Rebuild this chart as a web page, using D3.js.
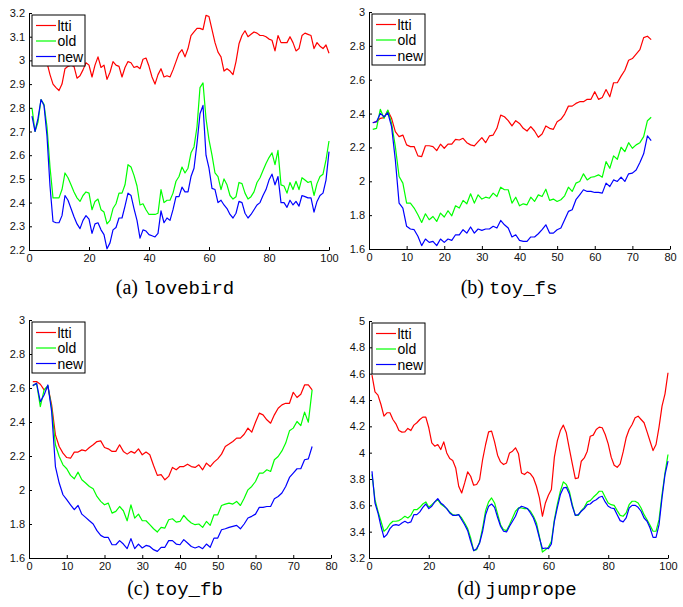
<!DOCTYPE html>
<html>
<head>
<meta charset="utf-8">
<script src="https://cdn.jsdelivr.net/npm/d3@7"></script>
<style>
  body { margin: 0; background: #fff; }
  svg { display: block; }
  .tick text { font-family: "Liberation Sans", Arial, sans-serif; font-size: 11px; fill: #111; }
  .legend text { font-family: "Liberation Sans", Arial, sans-serif; font-size: 14px; fill: #000; }
</style>
</head>
<body>
<div id="chart"></div>
<script>
// series names and colours (MATLAB defaults r, g, b)
const seriesNames = ['ltti', 'old', 'new'];
const seriesColors = ['#ff0000', '#00ff00', '#0000ff'];

// (a) lovebird, frames 1..100
const lovebirdLtti = [3.02,3.04,3.05,3.06,3.04,2.99,2.94,2.90,2.885,2.873,2.90,2.965,2.975,2.98,2.975,2.925,2.935,2.96,2.99,2.98,
  2.93,2.98,3.015,2.97,2.98,2.92,2.95,2.995,2.98,2.975,2.93,2.97,2.995,2.99,2.97,2.975,2.965,3.005,3.01,2.975,
  2.93,2.90,2.94,2.965,2.93,2.935,2.93,2.96,2.995,3.03,3.045,3.015,3.05,3.105,3.12,3.135,3.135,3.13,3.19,3.185,
  3.13,3.075,3.035,3.015,2.955,2.965,2.955,2.94,2.995,3.07,3.105,3.125,3.10,3.11,3.12,3.115,3.105,3.105,3.10,3.09,
  3.085,3.04,3.105,3.075,3.075,3.075,3.10,3.075,3.04,3.05,3.105,3.115,3.11,3.105,3.05,3.075,3.06,3.05,3.065,3.03];
const lovebirdOld = [2.80,2.70,2.74,2.835,2.815,2.72,2.55,2.42,2.42,2.42,2.455,2.525,2.505,2.475,2.445,2.42,2.405,2.43,2.445,2.44,
  2.37,2.405,2.415,2.37,2.36,2.31,2.325,2.375,2.395,2.44,2.44,2.475,2.56,2.55,2.515,2.47,2.39,2.395,2.37,2.35,
  2.35,2.35,2.355,2.455,2.40,2.41,2.41,2.44,2.49,2.51,2.55,2.525,2.545,2.61,2.635,2.72,2.885,2.905,2.755,2.665,
  2.60,2.525,2.51,2.455,2.50,2.475,2.43,2.415,2.425,2.485,2.48,2.44,2.415,2.425,2.445,2.485,2.505,2.535,2.565,2.59,
  2.61,2.56,2.62,2.475,2.47,2.44,2.485,2.455,2.49,2.455,2.505,2.495,2.485,2.49,2.43,2.48,2.51,2.52,2.58,2.66];
const lovebirdNew = [2.765,2.70,2.755,2.835,2.81,2.68,2.47,2.32,2.315,2.315,2.345,2.43,2.41,2.375,2.34,2.31,2.29,2.325,2.345,2.33,
  2.27,2.31,2.315,2.285,2.265,2.205,2.23,2.285,2.295,2.335,2.335,2.385,2.44,2.43,2.375,2.325,2.25,2.285,2.28,2.265,
  2.26,2.255,2.27,2.365,2.315,2.335,2.325,2.37,2.425,2.425,2.465,2.445,2.445,2.51,2.545,2.65,2.775,2.81,2.60,2.545,
  2.46,2.455,2.40,2.41,2.39,2.375,2.35,2.335,2.355,2.405,2.40,2.355,2.335,2.35,2.37,2.39,2.40,2.43,2.455,2.495,
  2.52,2.475,2.51,2.40,2.40,2.38,2.41,2.39,2.405,2.385,2.43,2.425,2.42,2.42,2.36,2.405,2.43,2.44,2.495,2.615];

// (b) toy_fs, frames 1..75
const toyFsLtti = [2.346,2.352,2.372,2.376,2.417,2.372,2.293,2.264,2.273,2.215,2.205,2.205,2.15,2.146,2.21,2.21,2.205,2.181,2.219,2.195,
  2.219,2.219,2.248,2.244,2.254,2.228,2.215,2.209,2.234,2.258,2.228,2.268,2.273,2.313,2.391,2.381,2.358,2.327,2.358,2.342,
  2.313,2.297,2.323,2.297,2.26,2.279,2.327,2.313,2.307,2.352,2.366,2.397,2.444,2.444,2.46,2.47,2.47,2.484,2.484,2.529,
  2.484,2.495,2.542,2.499,2.582,2.582,2.621,2.656,2.715,2.725,2.751,2.778,2.849,2.857,2.837];
const toyFsOld = [2.307,2.313,2.425,2.372,2.421,2.342,2.205,2.028,1.989,1.871,1.871,1.842,1.802,1.757,1.808,1.773,1.792,1.763,1.812,1.789,
  1.826,1.796,1.855,1.842,1.887,1.867,1.926,1.871,1.92,1.895,1.906,1.90,1.93,1.91,1.965,1.95,1.95,1.871,1.906,1.855,
  1.867,1.861,1.906,1.881,1.92,1.91,1.953,1.887,1.895,1.881,1.891,1.914,1.965,1.94,1.989,1.999,2.044,2.008,2.024,2.028,
  2.038,2.024,2.116,2.077,2.15,2.13,2.201,2.175,2.228,2.195,2.215,2.228,2.264,2.358,2.378];
const toyFsNew = [2.346,2.352,2.401,2.381,2.405,2.323,2.126,1.871,1.842,1.734,1.718,1.714,1.675,1.62,1.659,1.639,1.645,1.62,1.659,1.639,
  1.659,1.651,1.684,1.684,1.714,1.694,1.73,1.694,1.718,1.71,1.718,1.718,1.734,1.724,1.769,1.743,1.724,1.671,1.684,1.651,
  1.645,1.645,1.671,1.671,1.69,1.714,1.743,1.694,1.694,1.714,1.724,1.773,1.822,1.832,1.891,1.92,1.95,1.94,1.94,1.934,
  1.934,1.93,1.989,1.969,2.008,1.999,2.024,1.999,2.044,2.048,2.067,2.111,2.162,2.268,2.24];

// (c) toy_fb, frames 1..75
const toyFbLtti = [2.638,2.638,2.622,2.589,2.608,2.501,2.324,2.256,2.217,2.191,2.187,2.223,2.223,2.236,2.23,2.25,2.266,2.285,2.289,2.25,
  2.242,2.227,2.227,2.266,2.227,2.211,2.227,2.217,2.242,2.207,2.223,2.207,2.144,2.086,2.09,2.06,2.08,2.133,2.119,2.138,
  2.138,2.152,2.138,2.133,2.148,2.119,2.158,2.138,2.164,2.183,2.211,2.256,2.27,2.285,2.305,2.305,2.328,2.364,2.34,2.399,
  2.452,2.442,2.413,2.393,2.442,2.481,2.501,2.51,2.51,2.575,2.544,2.563,2.618,2.618,2.589];
const toyFbOld = [2.614,2.628,2.491,2.589,2.614,2.481,2.266,2.197,2.148,2.125,2.086,2.066,2.105,2.06,2.041,2.021,2.007,1.962,1.933,1.913,
  1.923,1.864,1.874,1.903,1.878,1.819,1.913,1.835,1.858,1.819,1.819,1.796,1.772,1.753,1.78,1.776,1.825,1.831,1.811,1.815,
  1.851,1.825,1.806,1.796,1.80,1.78,1.815,1.792,1.854,1.854,1.909,1.917,1.923,1.917,1.933,1.909,1.952,2.001,2.021,2.05,
  2.099,2.099,2.119,2.109,2.178,2.197,2.23,2.276,2.348,2.364,2.403,2.379,2.458,2.399,2.589];
const toyFbNew = [2.614,2.628,2.52,2.559,2.618,2.462,2.138,2.041,1.972,1.943,1.913,1.884,1.909,1.858,1.839,1.819,1.80,1.761,1.733,1.721,
  1.721,1.678,1.678,1.702,1.682,1.655,1.714,1.655,1.682,1.659,1.674,1.668,1.649,1.639,1.663,1.663,1.702,1.702,1.682,1.678,
  1.708,1.688,1.668,1.659,1.668,1.655,1.682,1.663,1.717,1.717,1.766,1.772,1.78,1.786,1.792,1.772,1.80,1.835,1.845,1.858,
  1.898,1.898,1.903,1.903,1.948,1.962,1.982,2.021,2.074,2.099,2.125,2.125,2.178,2.183,2.256];

// (d) jumprope, frames 1..100
const jumpropeLtti = [4.589,4.462,4.437,4.366,4.277,4.303,4.303,4.252,4.219,4.168,4.156,4.158,4.184,4.168,4.209,4.227,4.252,4.27,4.27,4.189,
  4.075,4.049,4.062,4.024,4.082,3.998,3.955,3.94,3.884,3.745,3.694,3.77,3.854,3.821,3.753,3.758,3.796,3.948,4.062,4.158,
  4.163,4.082,3.981,3.93,3.91,3.922,3.998,4.011,4.037,3.991,3.846,3.834,3.854,3.839,3.808,3.745,3.656,3.517,3.618,3.676,
  3.72,3.966,4.092,4.168,4.209,4.151,4.031,3.915,3.803,3.808,3.935,3.96,4.011,4.125,4.133,4.176,4.194,4.189,4.138,4.067,
  3.966,3.905,3.889,3.915,4.006,4.113,4.176,4.214,4.265,4.277,4.252,4.227,4.158,4.087,4.016,4.062,4.194,4.353,4.447,4.607];
const jumpropeOld = [3.834,3.643,3.555,3.479,3.403,3.423,3.458,3.479,3.479,3.484,3.499,3.517,3.504,3.524,3.567,3.567,3.585,3.61,3.626,3.585,
  3.605,3.626,3.643,3.61,3.593,3.575,3.55,3.529,3.524,3.529,3.504,3.466,3.423,3.352,3.256,3.263,3.321,3.428,3.56,3.626,
  3.656,3.618,3.534,3.453,3.415,3.408,3.453,3.504,3.555,3.58,3.58,3.575,3.575,3.555,3.517,3.466,3.365,3.245,3.263,3.281,
  3.327,3.491,3.61,3.707,3.778,3.758,3.707,3.605,3.524,3.524,3.56,3.585,3.626,3.636,3.661,3.682,3.707,3.707,3.661,3.618,
  3.605,3.60,3.56,3.524,3.517,3.542,3.605,3.631,3.631,3.618,3.58,3.529,3.491,3.448,3.403,3.403,3.491,3.682,3.846,3.986];
const jumpropeNew = [3.859,3.618,3.542,3.441,3.357,3.378,3.423,3.448,3.453,3.448,3.466,3.479,3.466,3.474,3.529,3.529,3.55,3.585,3.61,3.575,
  3.593,3.626,3.651,3.618,3.60,3.575,3.542,3.524,3.524,3.529,3.491,3.453,3.408,3.327,3.256,3.271,3.314,3.403,3.529,3.593,
  3.61,3.585,3.509,3.441,3.403,3.398,3.441,3.479,3.517,3.575,3.593,3.585,3.575,3.542,3.504,3.441,3.352,3.271,3.276,3.271,
  3.306,3.479,3.585,3.682,3.732,3.737,3.687,3.593,3.524,3.529,3.555,3.575,3.605,3.61,3.631,3.643,3.661,3.669,3.626,3.593,
  3.58,3.575,3.529,3.484,3.474,3.504,3.58,3.60,3.60,3.585,3.555,3.504,3.479,3.428,3.357,3.357,3.453,3.656,3.834,3.935];

// tick labels
const xTicks100 = [0, 20, 40, 60, 80, 100];
const xTicks80 = [0, 10, 20, 30, 40, 50, 60, 70, 80];
const yTicksA = [2.2, 2.3, 2.4, 2.5, 2.6, 2.7, 2.8, 2.9, 3, 3.1, 3.2];
const yTicksB = [1.6, 1.8, 2, 2.2, 2.4, 2.6, 2.8, 3];
const yTicksD = [3.2, 3.4, 3.6, 3.8, 4, 4.2, 4.4, 4.6, 4.8, 5];

// captions
const captionLetters = ['(a)', '(b)', '(c)', '(d)'];
const captionNames = ['lovebird', 'toy_fs', 'toy_fb', 'jumprope'];

const panels = [
  { series: [lovebirdLtti, lovebirdOld, lovebirdNew], xDomain: [0, 100], yDomain: [2.2, 3.2], xTicks: xTicks100, yTicks: yTicksA,
    left: 29, right: 329, top: 13, bottom: 250, capX: 175, capY: 294 },
  { series: [toyFsLtti, toyFsOld, toyFsNew], xDomain: [0, 80], yDomain: [1.6, 3], xTicks: xTicks80, yTicks: yTicksB,
    left: 369, right: 670, top: 12, bottom: 249, capX: 509, capY: 294 },
  { series: [toyFbLtti, toyFbOld, toyFbNew], xDomain: [0, 80], yDomain: [1.6, 3], xTicks: xTicks80, yTicks: yTicksB,
    left: 29, right: 331, top: 320, bottom: 558, capX: 175, capY: 595 },
  { series: [jumpropeLtti, jumpropeOld, jumpropeNew], xDomain: [0, 100], yDomain: [3.2, 5], xTicks: xTicks100, yTicks: yTicksD,
    left: 369, right: 668, top: 321, bottom: 558, capX: 517, capY: 595 },
];

const svg = d3.select('#chart').append('svg')
  .attr('width', 683)
  .attr('height', 607);

svg.append('rect').attr('width', 683).attr('height', 607).attr('fill', '#fff');

panels.forEach((p, i) => {
  const x = d3.scaleLinear().domain(p.xDomain).range([p.left, p.right]);
  const y = d3.scaleLinear().domain(p.yDomain).range([p.bottom, p.top]);
  const g = svg.append('g');

  // lines
  const line = d3.line().x((d, j) => x(j + 1)).y(d => y(d));
  p.series.forEach((vals, k) => {
    g.append('path')
      .datum(vals)
      .attr('d', line)
      .attr('fill', 'none')
      .attr('stroke', seriesColors[k])
      .attr('stroke-width', 1.2)
      .attr('stroke-linejoin', 'round');
  });

  // axes, MATLAB style: ticks pointing inward, no box
  g.append('g')
    .attr('transform', `translate(0,${p.bottom})`)
    .call(d3.axisBottom(x).tickValues(p.xTicks).tickSizeInner(-3).tickSizeOuter(0).tickPadding(4).tickFormat(d3.format('d')))
    .call(a => a.select('.domain').attr('stroke', '#000'))
    .call(a => a.selectAll('.tick line').attr('stroke', '#000'));

  g.append('g')
    .attr('transform', `translate(${p.left},0)`)
    .call(d3.axisLeft(y).tickValues(p.yTicks).tickSizeInner(-3).tickSizeOuter(0).tickPadding(4).tickFormat(d => String(+d.toFixed(1))))
    .call(a => a.select('.domain').attr('stroke', '#000'))
    .call(a => a.selectAll('.tick line').attr('stroke', '#000'));

  g.selectAll('.tick text').attr('font-family', null).attr('font-size', null);

  // legend
  const lg = g.append('g').attr('class', 'legend').attr('transform', `translate(${p.left + 3},${p.top + 2})`);
  lg.append('rect')
    .attr('width', 53).attr('height', 51)
    .attr('fill', '#fff').attr('stroke', '#000').attr('stroke-width', 1);
  seriesNames.forEach((name, k) => {
    const yy = 10.5 + k * 15.5;
    lg.append('line')
      .attr('x1', 4).attr('x2', 24).attr('y1', yy).attr('y2', yy)
      .attr('stroke', seriesColors[k]).attr('stroke-width', 1.2);
    lg.append('text').attr('x', 25.5).attr('y', yy + 5).text(name);
  });

  // caption
  const cap = svg.append('text')
    .attr('x', p.capX).attr('y', p.capY)
    .attr('text-anchor', 'middle')
    .attr('fill', '#000');
  cap.append('tspan')
    .attr('font-family', '"Liberation Serif", "Times New Roman", serif')
    .attr('font-size', 20)
    .text(captionLetters[i] + ' ');
  cap.append('tspan')
    .attr('font-family', '"Liberation Mono", "Courier New", monospace')
    .attr('font-size', 19)
    .text(captionNames[i]);
});
</script>
</body>
</html>
